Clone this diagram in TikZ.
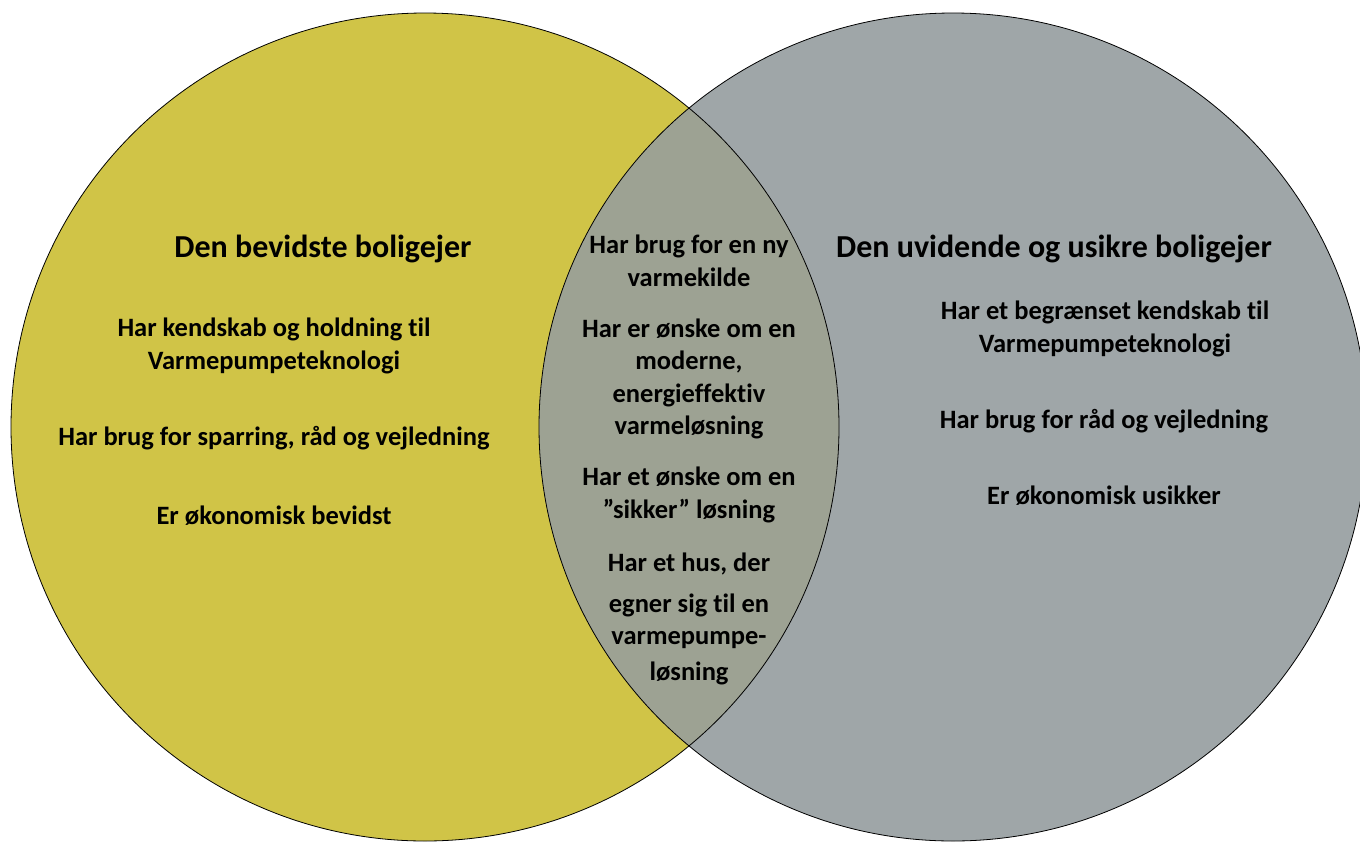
\documentclass[tikz,border=0pt]{standalone}
\usepackage{fontspec}
\setmainfont[Ligatures={NoCommon}]{Carlito}
\definecolor{yellowc}{HTML}{D0C447}
\definecolor{grayc}{HTML}{9FA6A8}
\definecolor{overlapc}{HTML}{9DA293}
\begin{document}
\begin{tikzpicture}[x=1pt,y=-1pt,
  lbl/.style={font=\bfseries\fontsize{26.5}{32.5}\selectfont, align=center, inner sep=0pt},
  head/.style={font=\bfseries\fontsize{32}{38}\selectfont, align=center, inner sep=0pt},
  ring/.style={draw=black, line width=0.8pt}]
\useasboundingbox (0,0) rectangle (1360,841);
\fill[yellowc] (425,427) circle[radius=414pt];
\fill[grayc] (953,427) circle[radius=414pt];
\begin{scope}
\clip (425,427) circle[radius=414pt];
\fill[overlapc] (953,427) circle[radius=414pt];
\end{scope}
\node[ring, circle, minimum size=828pt, inner sep=0pt] (L) at (425,427) {};
\node[ring, circle, minimum size=828pt, inner sep=0pt] (R) at (953,427) {};
% left
\node[head] (lh) at (323,249) {Den bevidste boligejer};
\node[lbl] (l1) at (274,346) {Har kendskab og holdning til\\Varmepumpeteknologi};
\node[lbl] (l2) at (274,438) {Har brug for sparring, råd og vejledning};
\node[lbl] (l3) at (274,516) {Er økonomisk bevidst};
% middle
\node[lbl] (m1) at (689,261) {Har brug for en ny\\varmekilde};
\node[lbl] (m2) at (689,379) {Har er ønske om en\\moderne,\\energieffektiv\\varmeløsning};
\node[lbl] (m3) at (689,495) {Har et ønske om en\\”sikker” løsning};
\node[lbl] (m4) at (689,564) {Har et hus, der};
\node[lbl] (m5) at (689,605) {egner sig til en};
\node[lbl] (m6) at (689,640) {varmepumpe-};
\node[lbl] (m7) at (689,673) {løsning};
% right
\node[head] (rh) at (1054,249) {Den uvidende og usikre boligejer};
\node[lbl] (r1) at (1105,329) {Har et begrænset kendskab til\\Varmepumpeteknologi};
\node[lbl] (r2) at (1104,421) {Har brug for råd og vejledning};
\node[lbl] (r3) at (1104,496) {Er økonomisk usikker};
\end{tikzpicture}
\end{document}
